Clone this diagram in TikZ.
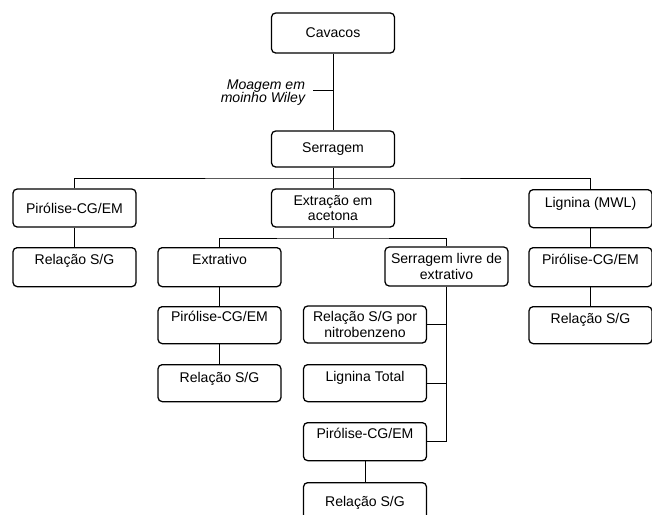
\documentclass[tikz,border=0pt]{standalone}
\usepackage{fontspec}
\setmainfont{Liberation Sans}

\begin{document}
\begin{tikzpicture}[
  x=0.025cm, y=-0.025cm,
  cx/.style={rectangle, draw, rounded corners=3pt, line width=0.9pt,
    minimum width=3.075cm, inner xsep=2pt, inner ysep=0pt, align=center,
    font=\fontsize{10}{10.8}\selectfont},
  topo/.style 2 args={cx, anchor=north, text height=#1, text depth=#2},
  liga/.style={line width=0.7pt},
]
\useasboundingbox (0,0) rectangle (652,514);

%% ── Topo ─────────────────────────────────────────────────────────────────────
\node[cx, minimum height=1.0cm] (cav) at (333,33)  {Cavacos};
\node[cx, minimum height=0.9cm] (ser) at (333,149) {Serragem};
\node[anchor=east, align=right, font=\fontsize{10}{9.6}\selectfont\itshape]
  (moag) at (310,92.5) {Moagem em\\moinho Wiley};

%% ── Linha 1 ──────────────────────────────────────────────────────────────────
\node[cx, minimum height=0.95cm] (pir1) at (74.5,208) {Pirólise-CG/EM};
\node[cx, minimum height=0.95cm] (ext)  at (333,208)  {Extração em\\acetona};
\node[topo={0.45cm}{0.5cm}]      (lmw)  at (590.5,189) {Lignina (MWL)};

%% ── Linha 2 ──────────────────────────────────────────────────────────────────
\node[topo={0.425cm}{0.55cm}]     (rel1) at (74.5,247)  {Relação S/G};
\node[topo={0.425cm}{0.55cm}]     (xtr)  at (219.5,247) {Extrativo};
\node[cx, minimum height=0.975cm] (slv)  at (446.5,266.5) {Serragem livre de\\extrativo};
\node[topo={0.425cm}{0.55cm}]     (pir3) at (590.5,247) {Pirólise-CG/EM};

%% ── Linha 3 ──────────────────────────────────────────────────────────────────
\node[topo={0.375cm}{0.55cm}]     (pirE) at (219.5,306) {Pirólise-CG/EM};
\node[cx, minimum height=0.925cm] (nit)  at (365,324.5) {Relação S/G por\\nitrobenzeno};
\node[topo={0.425cm}{0.5cm}]      (rel3) at (590.5,306) {Relação S/G};

%% ── Linhas 4 a 6 ─────────────────────────────────────────────────────────────
\node[topo={0.45cm}{0.475cm}] (relE) at (219.5,364) {Relação S/G};
\node[topo={0.425cm}{0.5cm}]  (ltot) at (365,364)   {Lignina Total};
\node[topo={0.4cm}{0.55cm}]   (pirM) at (365,422)   {Pirólise-CG/EM};
\node[topo={0.6cm}{0.4cm}]    (relM) at (365,482)   {Relação S/G};

%% ── Ligações ─────────────────────────────────────────────────────────────────
\coordinate (tq)  at (333,90);
\coordinate (tqe) at (313,90);
\coordinate (bus) at (333,178);
\coordinate (sub) at (333,238);

\draw[liga] (cav) -- (ser);
\draw[liga] (tqe) -- (tq);
\draw[liga] (ser) -- (ext);
\draw[liga] (pir1) |- (bus) -| (lmw);
\draw[liga] (pir1) -- (rel1);
\draw[liga] (lmw) -- (pir3) -- (rel3);
\draw[liga] (ext) -- (sub);
\draw[liga] (xtr) |- (sub) -| (slv);
\draw[liga] (xtr) -- (pirE) -- (relE);
\draw[liga] (slv) |- (nit);
\draw[liga] (slv) |- (ltot);
\draw[liga] (slv) |- (pirM);
\draw[liga] (pirM) -- (relM);

\end{tikzpicture}
\end{document}
